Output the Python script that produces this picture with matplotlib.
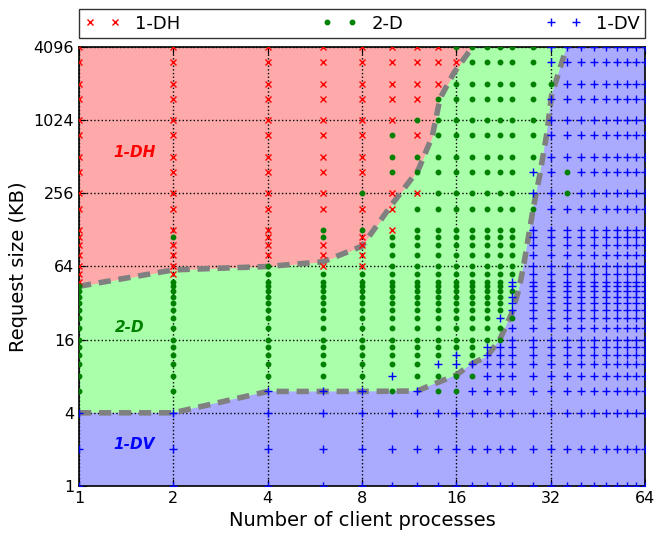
import matplotlib
matplotlib.use('Agg')
from matplotlib import pyplot as plt

# client process counts and request sizes (KB) of the sweep
procs = [1, 2, 4, 6, 8, 10, 12, 14, 16, 18, 20, 22, 24, 28, 32, 36, 40, 44, 48, 52, 56, 60, 64]
sizes = [1, 2, 4, 6, 8, 10, 12, 14, 16, 20, 24, 28, 32, 36, 40, 44, 48, 56, 64,
         80, 96, 112, 128, 192, 256, 384, 512, 768, 1024, 1536, 2048, 3072, 4096]

# best layout per run, one letter per size (bottom to top)
# v = 1-DV, d = 2-D, h = 1-DH
best = {
    1:  "vvv" + "d" * 13 + "h" * 17,
    2:  "vvv" + "d" * 14 + "hhhh" + "d" + "h" * 11,
    4:  "vvvv" + "d" * 15 + "h" * 14,
    6:  "vvvv" + "d" * 14 + "hhh" + "dd" + "h" * 10,
    8:  "vvvv" + "d" * 14 + "hhhh" + "d" + "h" + "d" + "h" * 8,
    10: "vvv" + "d" + "v" + "d" * 17 + "hhh" + "ddd" + "h" * 5,
    12: "vvvv" + "d" * 20 + "h" + "dd" + "h" + "d" + "hhhh",
    14: "vvv" + "dd" + "v" + "d" * 24 + "hhh",
    16: "vvv" + "dd" + "vv" + "d" * 24 + "h" + "d",
    18: "vvvv" + "d" + "v" + "d" * 27,
    20: "v" * 8 + "d" * 25,
    22: "v" * 8 + "dd" + "v" + "d" * 22,
    24: "v" * 10 + "d" + "vvv" + "d" + "vv" + "d" * 16,
    28: "v" * 23 + "d" + "vv" + "d" * 7,
    32: "v" * 30 + "d" + "vv",
    36: "v" * 24 + "dd" + "v" * 7,
    40: "v" * 33, 44: "v" * 33, 48: "v" * 33, 52: "v" * 33,
    56: "v" * 33, 60: "v" * 33, 64: "v" * 33,
}

# region boundaries
upper_x = [1, 2, 4, 6, 8, 10, 12.1, 13.4, 14.2, 15.7, 18]
upper_y = [44, 60, 64, 70, 94, 210, 400, 750, 1550, 2500, 4096]
lower_x = [1, 2, 4, 8, 12, 13, 16, 18, 20, 22, 24, 25.3, 26.2, 28.2, 29.6, 31.1, 32.2, 36]
lower_y = [4, 4, 6, 6, 6.05, 6.6, 8.2, 10.2, 11.6, 16, 26, 41, 64, 198, 373, 795, 1640, 4096]

pts = {'h': ([], []), 'd': ([], []), 'v': ([], [])}
for p in procs:
    for s, c in zip(sizes, best[p]):
        pts[c][0].append(p)
        pts[c][1].append(s)

fig = plt.figure(figsize=(6.66, 5.34), dpi=100)
ax = fig.add_axes([0.1186, 0.0899, 0.8499, 0.8221])
ax.set_xscale('log', base=2)
ax.set_yscale('log', base=2)
ax.set_xlim(1, 64)
ax.set_ylim(1, 4096)

red = '#ffaaaa'
green = '#aaffaa'
blue = '#aaaaff'
ax.set_facecolor(green)
ax.fill_between(upper_x, upper_y, 4096, color=red, lw=0, zorder=0.5)
ax.fill(lower_x + [64, 64, 1], lower_y + [4096, 1, 1], color=blue, lw=0, zorder=0.5)

ax.plot(upper_x, upper_y, color='0.5', lw=4, dashes=(2.2, 1.4), zorder=2)
ax.plot(lower_x, lower_y, color='0.5', lw=4, dashes=(2.2, 1.4), zorder=2)

ax.plot(pts['h'][0], pts['h'][1], 'x', color='r', ms=5, mew=1, label='1-DH', zorder=3)
ax.plot(pts['d'][0], pts['d'][1], 'o', color='g', mec='g', ms=3.2, label='2-D', zorder=3)
ax.plot(pts['v'][0], pts['v'][1], '+', color='b', ms=6, mew=1, label='1-DV', zorder=3)

ax.text(1.5, 560, '1-DH', color='r', fontsize=11, fontweight='bold', fontstyle='italic',
        ha='center', va='center')
ax.text(1.45, 20, '2-D', color='g', fontsize=11, fontweight='bold', fontstyle='italic',
        ha='center', va='center')
ax.text(1.5, 2.2, '1-DV', color='b', fontsize=11, fontweight='bold', fontstyle='italic',
        ha='center', va='center')

xt = [1, 2, 4, 8, 16, 32, 64]
yt = [1, 4, 16, 64, 256, 1024, 4096]
ax.set_xticks(xt)
ax.set_xticklabels([str(v) for v in xt])
ax.set_yticks(yt)
ax.set_yticklabels([str(v) for v in yt])
ax.minorticks_off()
ax.tick_params(direction='in', top=True, right=True, labelsize=11.5, length=5)
ax.grid(True, linestyle=':', color='k', lw=1)
for sp in ax.spines.values():
    sp.set_linewidth(1.2)

ax.set_xlabel('Number of client processes', fontsize=14)
ax.set_ylabel('Request size (KB)', fontsize=14)

leg = ax.legend(bbox_to_anchor=(0, 1.02, 1, 0.06), loc='lower left', mode='expand',
                ncol=3, numpoints=2, fontsize=13, borderaxespad=0, fancybox=False,
                handletextpad=0.8, borderpad=0.3)
leg.get_frame().set_edgecolor('k')

fig.savefig('out.png', dpi=100)
